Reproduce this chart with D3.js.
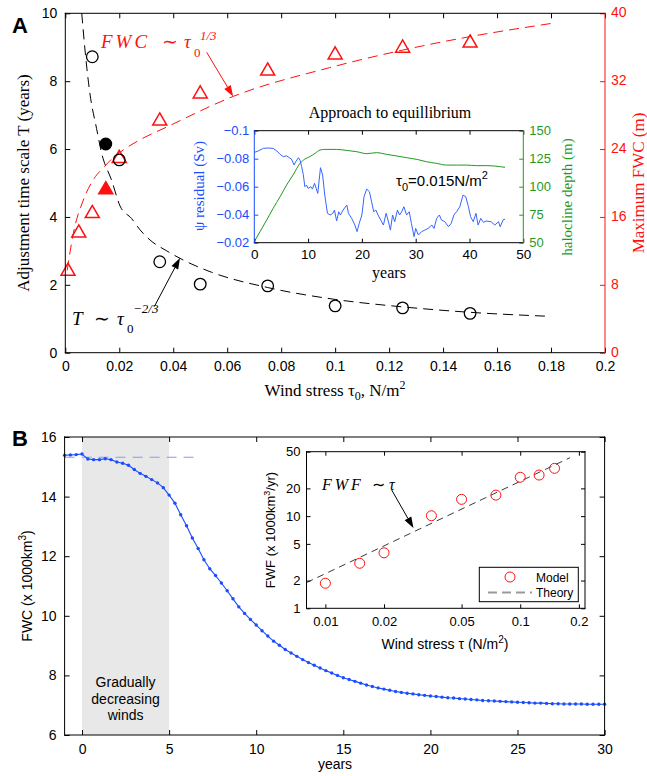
<!DOCTYPE html>
<html>
<head>
<meta charset="utf-8">
<title>FWC adjustment to wind stress</title>
<script src="https://d3js.org/d3.v7.min.js"></script>
<style>
  body { margin: 0; background: #fff; }
  svg { display: block; }
</style>
</head>
<body>
<svg id="fig" width="647" height="776"></svg>
<script>
// ---------- panel A : adjustment time and maximum FWC against wind stress
var tauT = [0.01, 0.015, 0.02, 0.035, 0.05, 0.075, 0.1, 0.125, 0.15];
var adjT = [8.72, 6.15, 5.68, 2.68, 2.02, 1.97, 1.38, 1.32, 1.16];
var tauF = [0.001, 0.005, 0.01, 0.015, 0.02, 0.035, 0.05, 0.075, 0.1, 0.125, 0.15];
var maxF = [9.6, 14.1, 16.4, 19.2, 22.9, 27.3, 30.5, 33.2, 35.1, 35.9, 36.5];
var filledTau = 0.015;

// dashed theory curves
var tCurveTau = [0.0061, 0.0073, 0.0091, 0.0116, 0.0135, 0.0172, 0.0203, 0.0246, 0.0277, 0.0314, 0.0376, 0.0437, 0.0542, 0.075, 0.1, 0.125, 0.15, 0.18];
var tCurveVal = [10.0, 8.92, 7.65, 6.6, 5.87, 5.07, 4.32, 3.95, 3.62, 3.32, 3.0, 2.73, 2.37, 1.92, 1.57, 1.35, 1.19, 1.07];
var fCurveTau = [0.0007, 0.003, 0.0067, 0.0104, 0.0141, 0.0178, 0.0215, 0.0277, 0.0376, 0.0622, 0.098, 0.1227, 0.1474, 0.18];
var fCurveVal = [9.7, 14.1, 18.0, 20.4, 21.8, 23.0, 23.9, 25.1, 26.6, 30.2, 33.6, 35.5, 37.1, 38.8];

var xTicksA = [0, 0.02, 0.04, 0.06, 0.08, 0.1, 0.12, 0.14, 0.16, 0.18, 0.2];
var yTicksA = [0, 2, 4, 6, 8, 10];
var yTicksA2 = [0, 8, 16, 24, 32, 40];

// inset of A : approach to equilibrium, tau0 = 0.015
var residYears = [0, 0.7, 1.7, 2.6, 3.5, 4.2, 4.8, 5.4, 6.0, 6.5, 6.9, 7.4, 7.7, 8.2, 8.5, 8.8, 9.1, 9.4, 9.7, 10.0,
  10.5, 10.8, 11.2, 11.5, 11.8, 12.3, 12.7, 13.1, 13.6, 14.1, 14.6, 14.9, 15.3, 15.7, 16.0, 16.5, 17.2, 17.5, 18.1, 18.7,
  19.1, 19.5, 20.0, 20.4, 20.9, 21.4, 21.8, 22.2, 22.6, 23.0, 23.5, 24.0, 24.5, 24.9, 25.3, 25.7, 26.1, 26.6, 27.0, 27.4,
  27.8, 28.3, 28.8, 29.2, 29.7, 30.0, 30.5, 31.1, 31.7, 32.3, 33.0, 33.4, 33.9, 34.4, 34.8, 35.4, 36.1, 36.6, 37.1, 37.6,
  38.2, 38.8, 39.3, 39.8, 40.2, 40.7, 41.2, 41.6, 42.1, 42.6, 43.1, 44.0, 44.7, 45.4, 45.7, 46.3, 46.6];
var residVals = [-0.0845, -0.0855, -0.0874, -0.0876, -0.0874, -0.0855, -0.0831, -0.0814, -0.0821, -0.0807, -0.0798, -0.0755,
  -0.0779, -0.0807, -0.079, -0.0743, -0.0688, -0.06, -0.0612, -0.0588, -0.06, -0.0583, -0.0624, -0.0588, -0.0552, -0.0736,
  -0.0683, -0.054, -0.041, -0.0398, -0.041, -0.0433, -0.0355, -0.0421, -0.0398, -0.0433, -0.0469, -0.041, -0.0374, -0.0326,
  -0.0279, -0.0338, -0.0398, -0.0529, -0.0583, -0.0564, -0.0493, -0.0421, -0.0433, -0.0398, -0.0362, -0.0326, -0.041,
  -0.0355, -0.029, -0.0398, -0.035, -0.0433, -0.0398, -0.0421, -0.0457, -0.0398, -0.0421, -0.0338, -0.0243, -0.0302,
  -0.0255, -0.0279, -0.029, -0.0302, -0.0326, -0.0302, -0.0374, -0.0398, -0.0362, -0.035, -0.0314, -0.0338, -0.0398,
  -0.0421, -0.0457, -0.054, -0.0529, -0.0457, -0.0386, -0.035, -0.041, -0.0326, -0.0374, -0.0345, -0.0355, -0.035,
  -0.0326, -0.035, -0.0314, -0.0367, -0.0367];
var haloYears = [0, 1.05, 2.3, 3.5, 4.8, 6.0, 7.2, 8.5, 9.4, 10.3, 11.3, 12.2, 13.1, 15.3, 17.2, 19.0, 20.9, 22.7, 24.6,
  26.5, 28.3, 30.2, 32.0, 33.9, 35.7, 37.6, 39.5, 41.3, 43.2, 46.6];
var haloVals = [50.9, 59.8, 70.2, 80.7, 91.1, 101.5, 110.4, 120.8, 124.7, 126.8, 129.8, 132.7, 133.3, 133.3, 132.4, 131.3,
  129.5, 130.4, 128.9, 127.4, 125.9, 124.4, 122.3, 120.8, 119.3, 119.3, 119.3, 118.8, 118.8, 117.3];
var insetXTicks = [0, 10, 20, 30, 40, 50];
var residTicks = [-0.1, -0.08, -0.06, -0.04, -0.02];
var haloTicks = [50, 75, 100, 125, 150];

// ---------- panel B : FWC time series, one value every 4 months from year -1
var fwcStart = -1, fwcStep = 1 / 3;
var fwcVals = [
  15.39, 15.40, 15.41,  15.43, 15.26, 15.24,  15.24, 15.27, 15.24,  15.16, 15.12, 15.05,
  14.91, 14.78, 14.68,  14.57, 14.46, 14.30,  14.05, 13.78, 13.39,  13.02, 12.61, 12.26,
  11.88, 11.58, 11.35,  11.10, 10.84, 10.57,  10.30, 10.08, 9.88,   9.69, 9.50, 9.32,
  9.15, 9.01, 8.87,     8.75, 8.64, 8.53,     8.43, 8.34, 8.25,     8.16, 8.08, 8.00,
  7.92, 7.86, 7.80,     7.74, 7.68, 7.63,     7.58, 7.54, 7.50,     7.46, 7.43, 7.40,
  7.38, 7.35, 7.33,     7.31, 7.29, 7.27,     7.25, 7.24, 7.22,     7.21, 7.19, 7.18,
  7.16, 7.15, 7.14,     7.13, 7.12, 7.11,     7.10, 7.09, 7.08,     7.07, 7.07, 7.06,
  7.05, 7.05, 7.04,     7.04, 7.04, 7.04,     7.03, 7.03, 7.03,     7.03];
var refYears = [-1, 6.6];
var refVals = [15.32, 15.32];
var windRamp = [0, 5];
var xTicksB = [0, 5, 10, 15, 20, 25, 30];
var yTicksB = [6, 8, 10, 12, 14, 16];

// inset of B : freshwater flux against wind stress (log-log)
var fwfTau = [0.01, 0.015, 0.02, 0.035, 0.05, 0.075, 0.1, 0.125, 0.15];
var fwfModel = [1.87, 3.08, 4.0, 10.1, 15.2, 16.9, 26.4, 27.9, 33.0];
var fwfTheoryTau = [0.008, 0.18];
var fwfTheoryVal = [1.9, 43];
var fwfXTicks = [0.01, 0.02, 0.05, 0.1, 0.2];
var fwfYTicks = [1, 2, 5, 10, 20, 50];

var SANS = "'Liberation Sans', Arial, Helvetica, sans-serif";
var SERIF = "'Liberation Serif', 'Times New Roman', Times, serif";
var RED = "#ff1010", BLUE = "#1a4dff", IBLUE = "#3566ff", GREEN = "#1f9a1f";

var svg = d3.select("#fig");

function styleAxis(g, color, size) {
  g.attr("font-family", SANS).attr("font-size", size);
  g.select(".domain").remove();
  g.selectAll(".tick line").attr("stroke", color);
  g.selectAll(".tick text").attr("fill", color);
}

function edge(g, x1, y1, x2, y2, color) {
  g.append("line").attr("x1", x1).attr("y1", y1).attr("x2", x2).attr("y2", y2)
    .attr("stroke", color).attr("stroke-width", 1).attr("stroke-linecap", "square");
}

function arrow(g, x1, y1, x2, y2, color) {
  var a = Math.atan2(y2 - y1, x2 - x1), L = 11, W = 3.8;
  var bx = x2 - L * Math.cos(a), by = y2 - L * Math.sin(a);
  g.append("line").attr("x1", x1).attr("y1", y1).attr("x2", bx).attr("y2", by)
    .attr("stroke", color).attr("stroke-width", 1);
  g.append("path")
    .attr("d", "M" + x2 + "," + y2 +
      "L" + (bx + W * Math.sin(a)) + "," + (by - W * Math.cos(a)) +
      "L" + (bx - W * Math.sin(a)) + "," + (by + W * Math.cos(a)) + "Z")
    .attr("fill", color);
}

// ================= PANEL A =================
var xA = d3.scaleLinear().domain([0, 0.2]).range([65.3, 605]);
var yA = d3.scaleLinear().domain([0, 10]).range([352.7, 13.3]);
var yA2 = d3.scaleLinear().domain([0, 40]).range([352.7, 13.3]);
var gA = svg.append("g");

gA.append("path")
  .attr("d", d3.line().curve(d3.curveMonotoneX)
    .x(function(d, i) { return xA(fCurveTau[i]); })
    .y(function(d) { return yA2(d); })(fCurveVal))
  .attr("fill", "none").attr("stroke", RED).attr("stroke-width", 1).attr("stroke-dasharray", "10,6");
gA.append("path")
  .attr("d", d3.line().curve(d3.curveMonotoneX)
    .x(function(d, i) { return xA(tCurveTau[i]); })
    .y(function(d) { return yA(d); })(tCurveVal))
  .attr("fill", "none").attr("stroke", "#000").attr("stroke-width", 1).attr("stroke-dasharray", "10,6");

gA.selectAll("path.tri").data(maxF).enter().append("path")
  .attr("class", "tri")
  .attr("d", d3.symbol(d3.symbolTriangle, 85))
  .attr("transform", function(d, i) { return "translate(" + xA(tauF[i]) + "," + yA2(d) + ")"; })
  .attr("fill", function(d, i) { return tauF[i] === filledTau ? RED : "none"; })
  .attr("stroke", RED).attr("stroke-width", 1.5);

gA.selectAll("circle.t").data(adjT).enter().append("circle")
  .attr("class", "t")
  .attr("cx", function(d, i) { return xA(tauT[i]); })
  .attr("cy", function(d) { return yA(d); })
  .attr("r", 5.8)
  .attr("fill", function(d, i) { return tauT[i] === filledTau ? "#000" : "none"; })
  .attr("stroke", "#000").attr("stroke-width", 1.3);

gA.append("g").attr("transform", "translate(0,352.7)")
  .call(d3.axisBottom(xA).tickValues(xTicksA).tickFormat(d3.format("~g")).tickSize(-5).tickPadding(8))
  .call(styleAxis, "#000", 14);
gA.append("g").attr("transform", "translate(0,13.3)")
  .call(d3.axisTop(xA).tickValues(xTicksA).tickFormat("").tickSize(-5))
  .call(styleAxis, "#000", 14);
gA.append("g").attr("transform", "translate(65.3,0)")
  .call(d3.axisLeft(yA).tickValues(yTicksA).tickSize(-5).tickPadding(8))
  .call(styleAxis, "#000", 14);
gA.append("g").attr("transform", "translate(605,0)")
  .call(d3.axisRight(yA2).tickValues(yTicksA2).tickSize(-5).tickPadding(6))
  .call(styleAxis, RED, 14)
  .call(function(g) { g.selectAll(".tick text").attr("dy", "0.25em"); });
edge(gA, 65.3, 13.3, 605, 13.3, "#000");
edge(gA, 65.3, 352.7, 605, 352.7, "#000");
edge(gA, 65.3, 13.3, 65.3, 352.7, "#000");
edge(gA, 605, 13.3, 605, 352.7, RED);

gA.append("text").attr("x", 12).attr("y", 33).attr("font-family", SANS)
  .attr("font-weight", "bold").attr("font-size", 22).text("A");

gA.append("text").attr("transform", "translate(29,183) rotate(-90)")
  .attr("text-anchor", "middle").attr("font-family", SERIF).attr("font-size", 17)
  .text("Adjustment time scale T (years)");
gA.append("text").attr("transform", "translate(644,183) rotate(-90)")
  .attr("text-anchor", "middle").attr("font-family", SERIF).attr("font-size", 17).attr("fill", RED)
  .text("Maximum FWC (m)");
var xl = gA.append("text").attr("x", 335).attr("y", 396).attr("text-anchor", "middle")
  .attr("font-family", SERIF).attr("font-size", 17);
xl.append("tspan").text("Wind stress \u03c4");
xl.append("tspan").attr("dy", 4).attr("font-size", 12).text("0");
xl.append("tspan").attr("dy", -4).text(", N/m");
xl.append("tspan").attr("dy", -7).attr("font-size", 12).text("2");

// FWC ~ tau0^(1/3)
var fl = gA.append("text").attr("font-family", SERIF).attr("font-size", 19).attr("fill", RED);
fl.append("tspan").attr("x", 101).attr("y", 48).attr("font-style", "italic").attr("letter-spacing", 3).text("FWC");
fl.append("tspan").attr("x", 162).attr("y", 48).text("\u223c");
fl.append("tspan").attr("x", 184).attr("y", 48).attr("font-style", "italic").text("\u03c4");
fl.append("tspan").attr("x", 194).attr("y", 57).attr("font-size", 13).text("0");
fl.append("tspan").attr("x", 200).attr("y", 40).attr("font-size", 13).attr("font-style", "italic").text("1/3");
arrow(gA, xA(0.0524), yA2(35.4), xA(0.0622), yA2(30.2), RED);

// T ~ tau0^(-2/3)
var tl = gA.append("text").attr("font-family", SERIF).attr("font-size", 19).attr("fill", "#000");
tl.append("tspan").attr("x", 72).attr("y", 325).attr("font-style", "italic").text("T");
tl.append("tspan").attr("x", 94).attr("y", 325).text("\u223c");
tl.append("tspan").attr("x", 117).attr("y", 325).attr("font-style", "italic").text("\u03c4");
tl.append("tspan").attr("x", 127).attr("y", 333).attr("font-size", 13).text("0");
tl.append("tspan").attr("x", 133).attr("y", 313).attr("font-size", 13).attr("font-style", "italic").text("\u22122/3");
arrow(gA, xA(0.033), yA(1.36), xA(0.0425), yA(2.79), "#000");

// ---- inset A
var xI = d3.scaleLinear().domain([0, 50]).range([254.3, 523.3]);
var yIr = d3.scaleLinear().domain([-0.02, -0.1]).range([242.7, 130.7]);
var yIh = d3.scaleLinear().domain([50, 150]).range([242.7, 130.7]);
var gI = svg.append("g");
gI.append("rect").attr("x", 254.3).attr("y", 130.7).attr("width", 269).attr("height", 112).attr("fill", "#fff");

gI.append("path")
  .attr("d", d3.line().curve(d3.curveMonotoneX)
    .x(function(d, i) { return xI(haloYears[i]); })
    .y(function(d) { return yIh(d); })(haloVals))
  .attr("fill", "none").attr("stroke", GREEN).attr("stroke-width", 1);
gI.append("path")
  .attr("d", d3.line()
    .x(function(d, i) { return xI(residYears[i]); })
    .y(function(d) { return yIr(d); })(residVals))
  .attr("fill", "none").attr("stroke", IBLUE).attr("stroke-width", 1);

gI.append("g").attr("transform", "translate(0,242.7)")
  .call(d3.axisBottom(xI).tickValues(insetXTicks).tickSize(-4).tickPadding(7))
  .call(styleAxis, "#000", 13.5);
gI.append("g").attr("transform", "translate(0,130.7)")
  .call(d3.axisTop(xI).tickValues(insetXTicks).tickFormat("").tickSize(-4))
  .call(styleAxis, "#000", 13);
gI.append("g").attr("transform", "translate(254.3,0)")
  .call(d3.axisLeft(yIr).tickValues(residTicks).tickFormat(d3.format("~g")).tickSize(-4).tickPadding(5))
  .call(styleAxis, BLUE, 13);
gI.append("g").attr("transform", "translate(523.3,0)")
  .call(d3.axisRight(yIh).tickValues(haloTicks).tickSize(-4).tickPadding(6))
  .call(styleAxis, GREEN, 13);
edge(gI, 254.3, 130.7, 523.3, 130.7, "#000");
edge(gI, 254.3, 242.7, 523.3, 242.7, "#000");
edge(gI, 254.3, 130.7, 254.3, 242.7, BLUE);
edge(gI, 523.3, 130.7, 523.3, 242.7, GREEN);

gI.append("text").attr("x", 390).attr("y", 118).attr("text-anchor", "middle")
  .attr("font-family", SERIF).attr("font-size", 16).text("Approach to equillibrium");
gI.append("text").attr("x", 389).attr("y", 278).attr("text-anchor", "middle")
  .attr("font-family", SERIF).attr("font-size", 16).text("years");
gI.append("text").attr("transform", "translate(204,186) rotate(-90)")
  .attr("text-anchor", "middle").attr("font-family", SERIF).attr("font-size", 15).attr("fill", BLUE)
  .text("\u03c8 residual (Sv)");
gI.append("text").attr("transform", "translate(572,197) rotate(-90)")
  .attr("text-anchor", "middle").attr("font-family", SERIF).attr("font-size", 15).attr("fill", GREEN)
  .text("halocline depth (m)");
var tn = gI.append("text").attr("x", 396).attr("y", 186).attr("font-family", SANS).attr("font-size", 15);
tn.append("tspan").text("\u03c4");
tn.append("tspan").attr("dy", 5).attr("font-size", 11).text("0");
tn.append("tspan").attr("dy", -5).text("=0.015N/m");
tn.append("tspan").attr("dy", -7).attr("font-size", 11).text("2");

// ================= PANEL B =================
var xB = d3.scaleLinear().domain([-1, 30]).range([64.6, 604.6]);
var yB = d3.scaleLinear().domain([6, 16]).range([735, 437]);
var gB = svg.append("g");

gB.append("rect").attr("x", xB(windRamp[0])).attr("y", 437)
  .attr("width", xB(windRamp[1]) - xB(windRamp[0])).attr("height", 298).attr("fill", "#e8e8e8");

gB.append("path")
  .attr("d", d3.line().x(function(d, i) { return xB(refYears[i]); }).y(function(d) { return yB(d); })(refVals))
  .attr("fill", "none").attr("stroke", "#7d9cff").attr("stroke-width", 1.2).attr("stroke-dasharray", "10,7");

var fwcLine = d3.line()
  .x(function(d, i) { return xB(fwcStart + i * fwcStep); })
  .y(function(d) { return yB(d); });
gB.append("path").attr("d", fwcLine(fwcVals))
  .attr("fill", "none").attr("stroke", BLUE).attr("stroke-width", 1.1);
gB.selectAll("circle.fwc").data(fwcVals).enter().append("circle")
  .attr("class", "fwc")
  .attr("cx", function(d, i) { return xB(fwcStart + i * fwcStep); })
  .attr("cy", function(d) { return yB(d); })
  .attr("r", 1.7).attr("fill", BLUE);

gB.append("g").attr("transform", "translate(0,735)")
  .call(d3.axisBottom(xB).tickValues(xTicksB).tickSize(-5).tickPadding(9))
  .call(styleAxis, "#000", 14);
gB.append("g").attr("transform", "translate(0,437)")
  .call(d3.axisTop(xB).tickValues(xTicksB).tickFormat("").tickSize(-5))
  .call(styleAxis, "#000", 14);
gB.append("g").attr("transform", "translate(64.6,0)")
  .call(d3.axisLeft(yB).tickValues(yTicksB).tickSize(-5).tickPadding(8))
  .call(styleAxis, "#000", 14);
gB.append("g").attr("transform", "translate(604.6,0)")
  .call(d3.axisRight(yB).tickValues(yTicksB).tickFormat("").tickSize(-5))
  .call(styleAxis, "#000", 14);
edge(gB, 64.6, 437, 604.6, 437, "#000");
edge(gB, 64.6, 735, 604.6, 735, "#000");
edge(gB, 64.6, 437, 64.6, 735, "#000");
edge(gB, 604.6, 437, 604.6, 735, "#000");

gB.append("text").attr("x", 12).attr("y", 446).attr("font-family", SANS)
  .attr("font-weight", "bold").attr("font-size", 22).text("B");
gB.append("text").attr("x", 335).attr("y", 769).attr("text-anchor", "middle")
  .attr("font-family", SANS).attr("font-size", 14).text("years");
var by = gB.append("text").attr("transform", "translate(32,586) rotate(-90)")
  .attr("text-anchor", "middle").attr("font-family", SANS).attr("font-size", 14);
by.append("tspan").text("FWC (x 1000km");
by.append("tspan").attr("dy", -6).attr("font-size", 10).text("3");
by.append("tspan").attr("dy", 6).text(")");

var gw = gB.append("text").attr("text-anchor", "middle").attr("font-family", SANS).attr("font-size", 14);
["Gradually", "decreasing", "winds"].forEach(function(s, i) {
  gw.append("tspan").attr("x", xB(2.5)).attr("y", 687 + i * 16.7).text(s);
});

// ---- inset B (log-log)
var xL = d3.scaleLog().domain([0.008, 0.215]).range([306.5, 585]);
var yL = d3.scaleLog().domain([1, 50]).range([608.3, 451.7]);
var gL = svg.append("g");
gL.append("rect").attr("x", 306.5).attr("y", 451.7).attr("width", 278.5).attr("height", 156.6).attr("fill", "#fff");

gL.append("path")
  .attr("d", d3.line().x(function(d, i) { return xL(fwfTheoryTau[i]); }).y(function(d) { return yL(d); })(fwfTheoryVal))
  .attr("fill", "none").attr("stroke", "#222").attr("stroke-width", 0.9).attr("stroke-dasharray", "7,5");
gL.selectAll("circle.fwf").data(fwfModel).enter().append("circle")
  .attr("class", "fwf")
  .attr("cx", function(d, i) { return xL(fwfTau[i]); })
  .attr("cy", function(d) { return yL(d); })
  .attr("r", 5).attr("fill", "none").attr("stroke", RED).attr("stroke-width", 1);

gL.append("g").attr("transform", "translate(0,608.3)")
  .call(d3.axisBottom(xL).tickValues(fwfXTicks).tickFormat(d3.format("~g")).tickSize(-4).tickPadding(8))
  .call(styleAxis, "#000", 13);
gL.append("g").attr("transform", "translate(0,451.7)")
  .call(d3.axisTop(xL).tickValues(fwfXTicks).tickFormat("").tickSize(-4))
  .call(styleAxis, "#000", 13);
gL.append("g").attr("transform", "translate(306.5,0)")
  .call(d3.axisLeft(yL).tickValues(fwfYTicks).tickFormat(d3.format("~g")).tickSize(-4).tickPadding(6))
  .call(styleAxis, "#000", 13);
gL.append("g").attr("transform", "translate(585,0)")
  .call(d3.axisRight(yL).tickValues(fwfYTicks).tickFormat("").tickSize(-4))
  .call(styleAxis, "#000", 13);
edge(gL, 306.5, 451.7, 585, 451.7, "#000");
edge(gL, 306.5, 608.3, 585, 608.3, "#000");
edge(gL, 306.5, 451.7, 306.5, 608.3, "#000");
edge(gL, 585, 451.7, 585, 608.3, "#000");

var lx = gL.append("text").attr("x", 445).attr("y", 649).attr("text-anchor", "middle")
  .attr("font-family", SANS).attr("font-size", 14);
lx.append("tspan").text("Wind stress \u03c4 (N/m");
lx.append("tspan").attr("dy", -6).attr("font-size", 10).text("2");
lx.append("tspan").attr("dy", 6).text(")");
var ly = gL.append("text").attr("transform", "translate(275,530) rotate(-90)")
  .attr("text-anchor", "middle").attr("font-family", SANS).attr("font-size", 13);
ly.append("tspan").text("FWF (x 1000km");
ly.append("tspan").attr("dy", -5).attr("font-size", 9).text("3");
ly.append("tspan").attr("dy", 5).text("/yr)");

var fw = gL.append("text").attr("font-family", SERIF).attr("font-size", 16).attr("font-style", "italic");
fw.append("tspan").attr("x", 322).attr("y", 490).attr("letter-spacing", 3).text("FWF");
fw.append("tspan").attr("x", 372).attr("y", 490).attr("font-style", "normal").text("\u223c");
fw.append("tspan").attr("x", 389).attr("y", 490).text("\u03c4");
arrow(gL, xL(0.0219), yL(19.2), xL(0.0283), yL(7.43), "#000");

// legend
var lg = gL.append("g");
lg.append("rect").attr("x", 479.3).attr("y", 567.3).attr("width", 99).attr("height", 34.4)
  .attr("fill", "#fff").attr("stroke", "#000").attr("stroke-width", 1);
lg.append("circle").attr("cx", 510).attr("cy", 577).attr("r", 5)
  .attr("fill", "none").attr("stroke", RED).attr("stroke-width", 1);
lg.append("line").attr("x1", 488).attr("y1", 592.5).attr("x2", 532).attr("y2", 592.5)
  .attr("stroke", "#999").attr("stroke-width", 2).attr("stroke-dasharray", "9,5");
lg.append("text").attr("x", 536).attr("y", 581.5).attr("font-family", SANS).attr("font-size", 12).text("Model");
lg.append("text").attr("x", 536).attr("y", 597).attr("font-family", SANS).attr("font-size", 12).text("Theory");
</script>
</body>
</html>
